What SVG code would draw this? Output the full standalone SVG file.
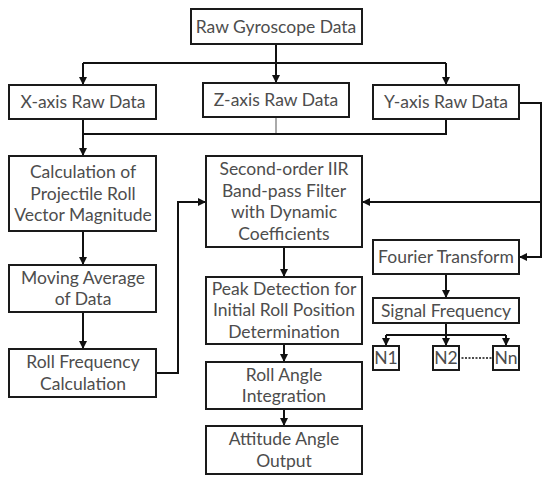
<svg xmlns="http://www.w3.org/2000/svg" width="550" height="481" viewBox="0 0 550 481">
<style>
rect.b{fill:#fff;stroke:#1a1a1a;stroke-width:2}
text{font-family:Lato,"Liberation Sans",sans-serif;font-size:17.5px;fill:#4d4d4d;text-anchor:middle}
.c path{fill:none;stroke:#111;stroke-width:2}
</style>
<defs>
<marker id="ah" markerUnits="userSpaceOnUse" markerWidth="10" markerHeight="10" refX="9" refY="5" orient="auto">
<path d="M1,1 L9,5 L1,9 Z" fill="#111"/>
</marker>
</defs>
<rect width="550" height="481" fill="#fff"/>
<g class="c" id="connectors">
<path d="M276,44 V63"/>
<path d="M83,63 H446"/>
<path d="M83,63 V85" marker-end="url(#ah)"/>
<path d="M276,63 V83" marker-end="url(#ah)"/>
<path d="M446,63 V85" marker-end="url(#ah)"/>
<path d="M276,117 V134" style="stroke:#aaa"/>
<path d="M83,134 H446 V119"/>
<path d="M83,119 V156" marker-end="url(#ah)"/>
<path d="M83,231 V265" marker-end="url(#ah)"/>
<path d="M83,312 V349" marker-end="url(#ah)"/>
<path d="M156,373 H178 V202 H206" marker-end="url(#ah)"/>
<path d="M519,103 H541 V257 H519" marker-end="url(#ah)"/>
<path d="M541,202 H362" marker-end="url(#ah)"/>
<path d="M284,247 V277" marker-end="url(#ah)"/>
<path d="M284,344 V362" marker-end="url(#ah)"/>
<path d="M284,409 V426" marker-end="url(#ah)"/>
<path d="M446,274 V298" marker-end="url(#ah)"/>
<path d="M446,323 V335"/>
<path d="M386,335 H506"/>
<path d="M386,335 V346" marker-end="url(#ah)"/>
<path d="M446,335 V346" marker-end="url(#ah)"/>
<path d="M506,335 V346" marker-end="url(#ah)"/>
<path d="M458,358 H493" style="stroke-width:1.5;stroke-dasharray:2 1.5"/>
</g>
<g id="raw"><rect class="b" x="191" y="9" width="171" height="35"/><text x="276" y="32.5">Raw Gyroscope Data</text></g>
<g id="xaxis"><rect class="b" x="9" y="85" width="147" height="34"/><text x="83" y="108">X-axis Raw Data</text></g>
<g id="zaxis"><rect class="b" x="203" y="83" width="146" height="34"/><text x="276" y="106">Z-axis Raw Data</text></g>
<g id="yaxis"><rect class="b" x="373" y="85" width="146" height="34"/><text x="446" y="108">Y-axis Raw Data</text></g>
<g id="calc"><rect class="b" x="9" y="156" width="147" height="75"/><text x="83" y="178">Calculation of</text><text x="83" y="199.5">Projectile Roll</text><text x="83" y="221">Vector Magnitude</text></g>
<g id="moving"><rect class="b" x="9" y="265" width="147" height="47"/><text x="83" y="283.5">Moving Average</text><text x="83" y="305">of Data</text></g>
<g id="rollfreq"><rect class="b" x="9" y="349" width="147" height="48"/><text x="83" y="368">Roll Frequency</text><text x="83" y="390">Calculation</text></g>
<g id="iir"><rect class="b" x="206" y="156" width="156" height="91"/><text x="284" y="175">Second-order IIR</text><text x="284" y="196.7">Band-pass Filter</text><text x="284" y="218.3">with Dynamic</text><text x="284" y="240">Coefficients</text></g>
<g id="peak"><rect class="b" x="206" y="277" width="156" height="67"/><text x="284" y="294.5">Peak Detection for</text><text x="284" y="316.2">Initial Roll Position</text><text x="284" y="338">Determination</text></g>
<g id="rollangle"><rect class="b" x="206" y="362" width="156" height="47"/><text x="284" y="380.5">Roll Angle</text><text x="284" y="402.2">Integration</text></g>
<g id="attitude"><rect class="b" x="206" y="426" width="156" height="48"/><text x="284" y="445">Attitude Angle</text><text x="284" y="467">Output</text></g>
<g id="fourier"><rect class="b" x="373" y="240" width="146" height="34"/><text x="446" y="263">Fourier Transform</text></g>
<g id="signal"><rect class="b" x="373" y="298" width="146" height="25"/><text x="446" y="316.5">Signal Frequency</text></g>
<g id="n1"><rect class="b" x="373" y="346" width="26" height="24"/><text x="386" y="364">N1</text></g>
<g id="n2"><rect class="b" x="433" y="346" width="26" height="24"/><text x="446" y="364">N2</text></g>
<g id="nn"><rect class="b" x="493" y="346" width="26" height="24"/><text x="506" y="364">Nn</text></g>
</svg>
